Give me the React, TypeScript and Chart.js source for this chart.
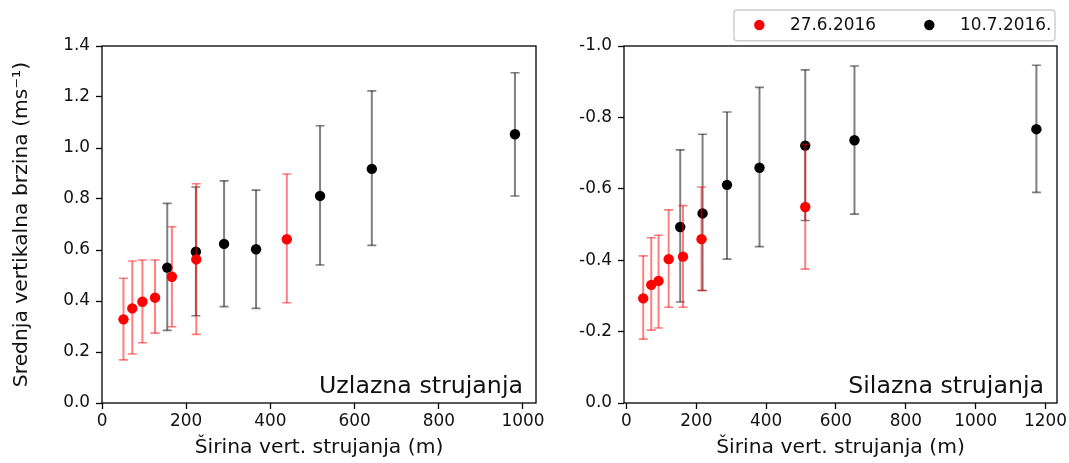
import React, { useEffect, useRef } from "react";
import { Chart, registerables } from "chart.js";

Chart.register(...registerables);

const FONT_FAMILY = "'DejaVu Sans', 'Liberation Sans', sans-serif";
const TEXT_COLOR = "#111111";

// ---- texts ----
const legendLabels = ["27.6.2016", "10.7.2016."];
const panelTitles = ["Uzlazna strujanja", "Silazna strujanja"];
const xAxisTitle = "Širina vert. strujanja (m)";
const yAxisTitle = "Srednja vertikalna brzina (ms\u207B\u00B9)";

// ---- tick values ----
const upXTicks = [0, 200, 400, 600, 800, 1000];
const upYTicks = [0, 0.2, 0.4, 0.6, 0.8, 1.0, 1.2, 1.4];
const downXTicks = [0, 200, 400, 600, 800, 1000, 1200];
const downYTicks = [-1.0, -0.8, -0.6, -0.4, -0.2, 0];

// ---- axis ranges ----
const upXRange = [0, 1031];
const upYRange = [0, 1.4];
const downXRange = [-7, 1233];
const downYRange = [-1.0, 0];

// ---- left panel: Uzlazna strujanja ----
const upRedX = [51, 72, 96, 126, 166, 224, 439];
const upRedY = [0.328, 0.371, 0.397, 0.413, 0.495, 0.563, 0.642];
const upRedLow = [0.169, 0.192, 0.236, 0.274, 0.299, 0.269, 0.393];
const upRedHigh = [0.489, 0.557, 0.561, 0.561, 0.691, 0.86, 0.898];

const upBlackX = [155, 223, 290, 366, 518, 641, 981];
const upBlackY = [0.531, 0.593, 0.624, 0.603, 0.812, 0.918, 1.054];
const upBlackLow = [0.285, 0.342, 0.378, 0.371, 0.541, 0.618, 0.812];
const upBlackHigh = [0.783, 0.847, 0.871, 0.835, 1.087, 1.224, 1.295];

// ---- right panel: Silazna strujanja ----
const downRedX = [48, 71, 92, 121, 162, 215, 512];
const downRedY = [-0.293, -0.331, -0.342, -0.403, -0.41, -0.459, -0.549];
const downRedLow = [-0.412, -0.463, -0.47, -0.541, -0.553, -0.605, -0.725];
const downRedHigh = [-0.179, -0.204, -0.21, -0.268, -0.268, -0.315, -0.375];

const downBlackX = [154, 218, 288, 381, 512, 653, 1174];
const downBlackY = [-0.493, -0.531, -0.611, -0.659, -0.721, -0.736, -0.767];
const downBlackLow = [-0.709, -0.753, -0.815, -0.884, -0.933, -0.944, -0.946];
const downBlackHigh = [-0.283, -0.315, -0.403, -0.438, -0.511, -0.529, -0.59];

const errorBarPlugin = {
  id: "errorBars",
  beforeDatasetDraw(chart: any, args: any) {
    const ds = chart.data.datasets[args.index];
    const xs = chart.scales.x;
    const ys = chart.scales.y;
    const ctx = chart.ctx;
    ctx.save();
    ctx.strokeStyle = ds.errorColor;
    for (const p of ds.data) {
      const px = xs.getPixelForValue(p.x);
      const y1 = ys.getPixelForValue(p.lo);
      const y2 = ys.getPixelForValue(p.hi);
      ctx.lineWidth = 2;
      ctx.beginPath();
      ctx.moveTo(px, y1);
      ctx.lineTo(px, y2);
      ctx.stroke();
      ctx.lineWidth = 1.6;
      ctx.beginPath();
      ctx.moveTo(px - 4.5, y1);
      ctx.lineTo(px + 4.5, y1);
      ctx.moveTo(px - 4.5, y2);
      ctx.lineTo(px + 4.5, y2);
      ctx.stroke();
    }
    ctx.restore();
  },
};

const decorPlugin = {
  id: "panelDecor",
  afterDraw(chart: any, _args: any, opts: any) {
    const { ctx, chartArea } = chart;
    const { left, top, right, bottom } = chartArea;
    ctx.save();
    // frame
    ctx.strokeStyle = "#000";
    ctx.lineWidth = 1.3;
    ctx.strokeRect(left, top, right - left, bottom - top);
    // panel annotation
    ctx.fillStyle = TEXT_COLOR;
    ctx.font = `23.7px ${FONT_FAMILY}`;
    ctx.textAlign = "right";
    ctx.textBaseline = "alphabetic";
    ctx.fillText(opts.title, right - 0.03 * (right - left), bottom - 10.3);
    // legend
    if (opts.showLegend) {
      const bw = 321;
      const bh = 30.7;
      const bx = right - 2 - bw;
      const by = 10;
      const r = 3;
      ctx.beginPath();
      ctx.moveTo(bx + r, by);
      ctx.lineTo(bx + bw - r, by);
      ctx.arcTo(bx + bw, by, bx + bw, by + r, r);
      ctx.lineTo(bx + bw, by + bh - r);
      ctx.arcTo(bx + bw, by + bh, bx + bw - r, by + bh, r);
      ctx.lineTo(bx + r, by + bh);
      ctx.arcTo(bx, by + bh, bx, by + bh - r, r);
      ctx.lineTo(bx, by + r);
      ctx.arcTo(bx, by, bx + r, by, r);
      ctx.closePath();
      ctx.fillStyle = "rgba(255,255,255,0.8)";
      ctx.fill();
      ctx.strokeStyle = "#cccccc";
      ctx.lineWidth = 1.4;
      ctx.stroke();
      chart.data.datasets.forEach((ds: any, i: number) => {
        const ox = bx + i * 170;
        ctx.beginPath();
        ctx.fillStyle = ds.backgroundColor;
        ctx.arc(ox + 25.3, by + 15, 5.2, 0, Math.PI * 2);
        ctx.fill();
        ctx.fillStyle = TEXT_COLOR;
        ctx.font = `16.9px ${FONT_FAMILY}`;
        ctx.textAlign = "left";
        ctx.textBaseline = "alphabetic";
        ctx.fillText(ds.label, ox + 56, by + 20.3);
      });
    }
    ctx.restore();
  },
};

type Spec = {
  title: string;
  showLegend: boolean;
  yTitle: string | null;
  yWidth: number;
  padRight: number;
  xRange: number[];
  yRange: number[];
  xTicks: number[];
  yTicks: number[];
  reverseY: boolean;
  red: number[][];
  black: number[][];
};

function toPoints(xs: number[], ys: number[], lo: number[], hi: number[]) {
  return xs.map((x, i) => ({ x, y: ys[i], lo: lo[i], hi: hi[i] }));
}

function buildConfig(spec: Spec): any {
  const tickFont = { family: FONT_FAMILY, size: 16.9 };
  const titleFont = { family: FONT_FAMILY, size: 20.3 };
  const grid = {
    display: true,
    drawOnChartArea: false,
    drawTicks: true,
    tickLength: 6,
    tickWidth: 1.3,
    tickColor: "#000",
  };
  const pointStyle = {
    pointRadius: 5.2,
    pointHoverRadius: 5.2,
    pointBorderWidth: 0,
    borderWidth: 0,
  };
  return {
    type: "scatter",
    data: {
      datasets: [
        {
          label: legendLabels[0],
          data: toPoints(spec.red[0], spec.red[1], spec.red[2], spec.red[3]),
          backgroundColor: "#ff0000",
          pointBackgroundColor: "#ff0000",
          errorColor: "rgba(255,0,0,0.5)",
          ...pointStyle,
        },
        {
          label: legendLabels[1],
          data: toPoints(spec.black[0], spec.black[1], spec.black[2], spec.black[3]),
          backgroundColor: "#000000",
          pointBackgroundColor: "#000000",
          errorColor: "rgba(0,0,0,0.5)",
          ...pointStyle,
        },
      ],
    },
    options: {
      animation: false,
      responsive: false,
      events: [],
      layout: { padding: { left: 0, top: 46, right: spec.padRight, bottom: 0 } },
      plugins: {
        legend: { display: false },
        tooltip: { enabled: false },
        panelDecor: { title: spec.title, showLegend: spec.showLegend },
      },
      scales: {
        x: {
          type: "linear",
          min: spec.xRange[0],
          max: spec.xRange[1],
          afterBuildTicks: (s: any) => {
            s.ticks = spec.xTicks.map((v) => ({ value: v }));
          },
          afterFit: (s: any) => {
            s.height = 60;
            s.paddingLeft = 0;
            s.paddingRight = 0;
          },
          grid,
          border: { display: false },
          ticks: {
            font: tickFont,
            color: TEXT_COLOR,
            padding: 2,
            maxRotation: 0,
            autoSkip: false,
            callback: (v: any) => String(v),
          },
          title: {
            display: true,
            text: xAxisTitle,
            font: titleFont,
            color: TEXT_COLOR,
            padding: { top: 0, bottom: 3 },
          },
        },
        y: {
          type: "linear",
          min: spec.yRange[0],
          max: spec.yRange[1],
          reverse: spec.reverseY,
          afterBuildTicks: (s: any) => {
            s.ticks = spec.yTicks.map((v) => ({ value: v }));
          },
          afterFit: (s: any) => {
            s.width = spec.yWidth;
            s.paddingTop = 0;
            s.paddingBottom = 0;
          },
          grid,
          border: { display: false },
          ticks: {
            font: tickFont,
            color: TEXT_COLOR,
            padding: 6,
            autoSkip: false,
            callback: (v: any) => Number(v).toFixed(1),
          },
          title: {
            display: spec.yTitle !== null,
            text: spec.yTitle || "",
            font: titleFont,
            color: TEXT_COLOR,
            padding: { top: 10, bottom: 0 },
          },
        },
      },
    },
    plugins: [errorBarPlugin, decorPlugin],
  };
}

export default function App() {
  const leftRef = useRef<HTMLCanvasElement>(null);
  const rightRef = useRef<HTMLCanvasElement>(null);

  useEffect(() => {
    const left = new Chart(
      leftRef.current as HTMLCanvasElement,
      buildConfig({
        title: panelTitles[0],
        showLegend: false,
        yTitle: yAxisTitle,
        yWidth: 102,
        padRight: 14,
        xRange: upXRange,
        yRange: upYRange,
        xTicks: upXTicks,
        yTicks: upYTicks,
        reverseY: false,
        red: [upRedX, upRedY, upRedLow, upRedHigh],
        black: [upBlackX, upBlackY, upBlackLow, upBlackHigh],
      })
    );
    const right = new Chart(
      rightRef.current as HTMLCanvasElement,
      buildConfig({
        title: panelTitles[1],
        showLegend: true,
        yTitle: null,
        yWidth: 74,
        padRight: 12,
        xRange: downXRange,
        yRange: downYRange,
        xTicks: downXTicks,
        yTicks: downYTicks,
        reverseY: true,
        red: [downRedX, downRedY, downRedLow, downRedHigh],
        black: [downBlackX, downBlackY, downBlackLow, downBlackHigh],
      })
    );
    return () => {
      left.destroy();
      right.destroy();
    };
  }, []);

  return (
    <div
      style={{
        position: "fixed",
        left: 0,
        top: 0,
        width: 1069,
        height: 463,
        background: "#ffffff",
      }}
    >
      <canvas
        ref={leftRef}
        width={550}
        height={463}
        style={{ position: "absolute", left: 0, top: 0, width: 550, height: 463 }}
      />
      <canvas
        ref={rightRef}
        width={519}
        height={463}
        style={{ position: "absolute", left: 550, top: 0, width: 519, height: 463 }}
      />
    </div>
  );
}
